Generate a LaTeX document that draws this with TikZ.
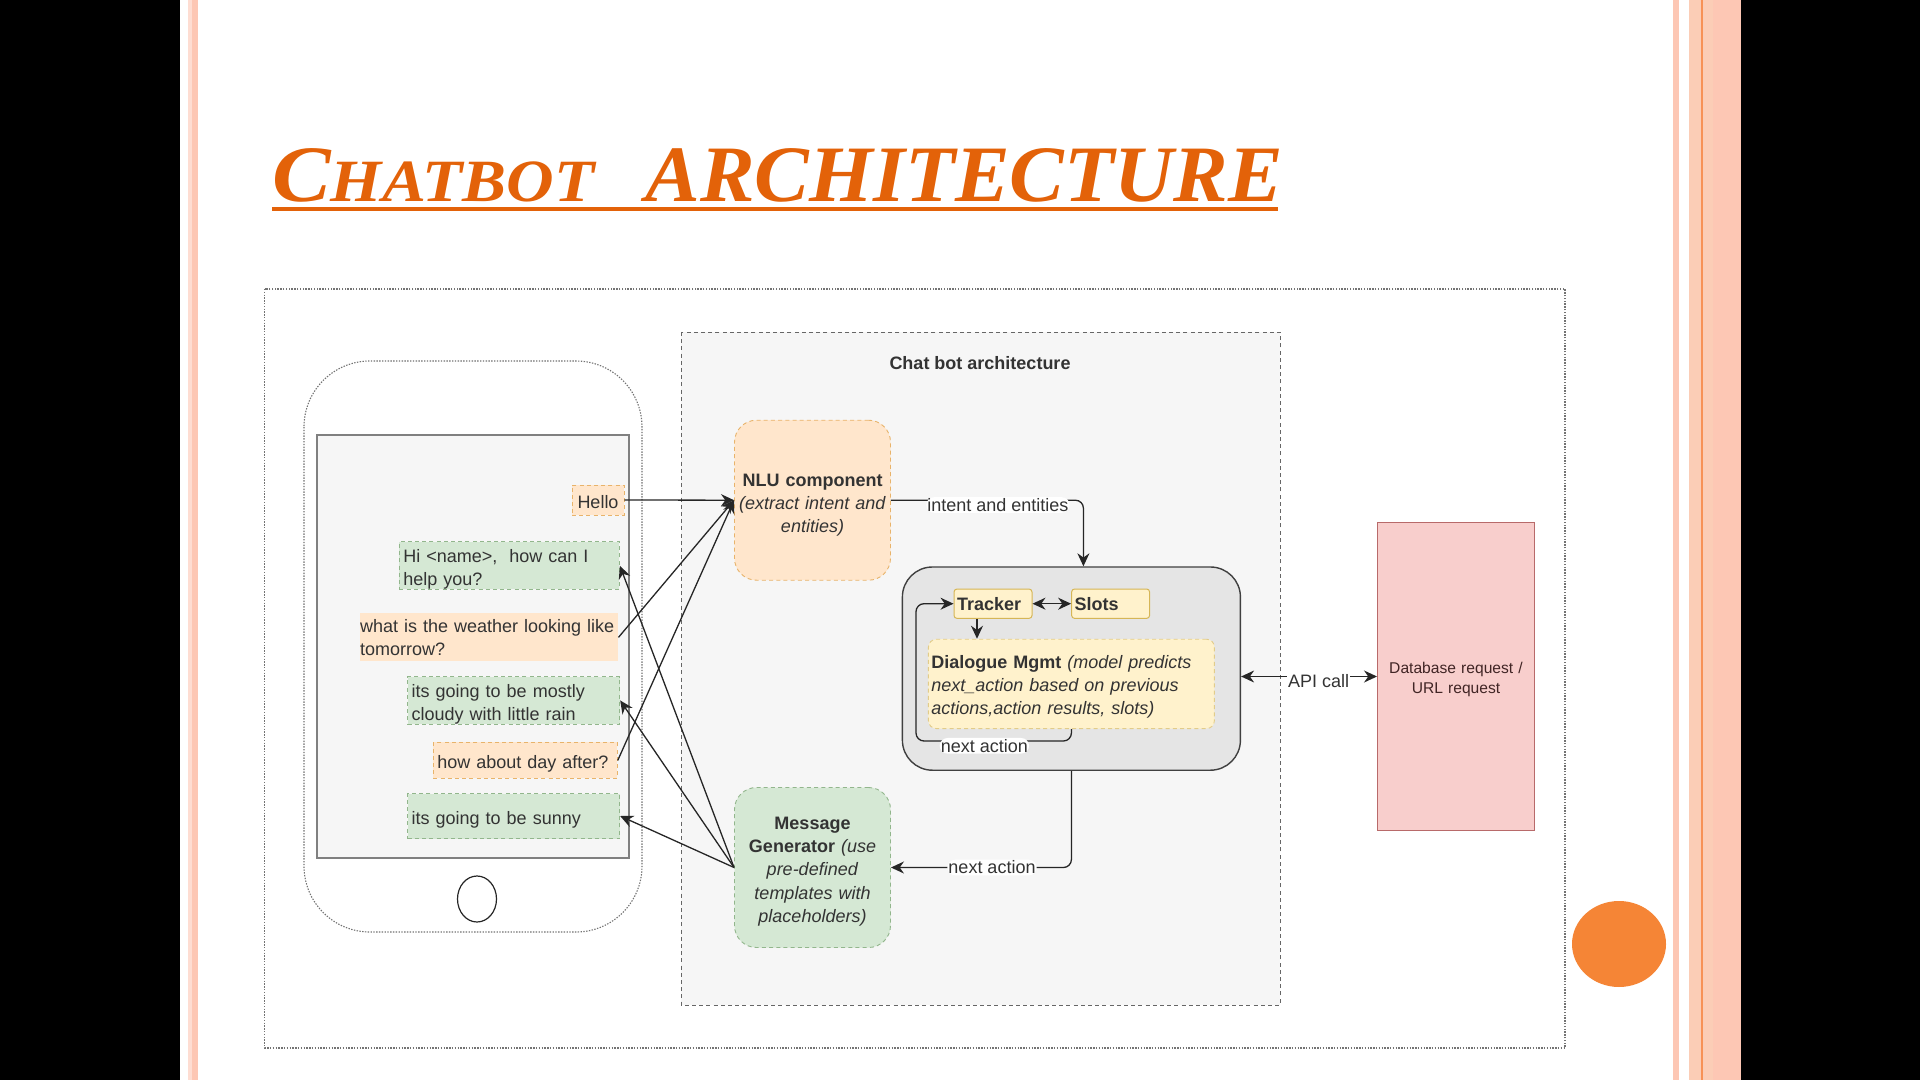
\documentclass[tikz,border=0pt]{standalone}
\usepackage{fontspec}
\setmainfont{Liberation Sans}
\setsansfont{Liberation Sans}
\newfontfamily\titlefamily{Liberation Serif}
\usetikzlibrary{arrows.meta,positioning,shapes.geometric,calc}
\definecolor{slideorange}{HTML}{E36209}
\definecolor{slidepink}{HTML}{FDC7B4}
\definecolor{slidepeach}{HTML}{FBCDB6}
\definecolor{slideline}{HTML}{F79256}
\definecolor{slidedot}{HTML}{F58536}
\definecolor{txtgray}{HTML}{333333}
\definecolor{edgegray}{HTML}{666666}
\definecolor{panelgray}{HTML}{F6F6F6}
\definecolor{usrorange}{HTML}{FFE6CC}
\definecolor{usredge}{HTML}{E8B36A}
\definecolor{botgreen}{HTML}{D5E8D4}
\definecolor{botedge}{HTML}{92B68C}
\definecolor{dmyellow}{HTML}{FFF2CC}
\definecolor{dmedge}{HTML}{D6B656}
\definecolor{dbred}{HTML}{F8CECC}
\definecolor{dbedge}{HTML}{B86A6A}

\tikzset{
  diagtext/.style={font=\fontsize{9}{11.6}\selectfont, text=txtgray},
  topgap/.style={execute at begin node={\rule{0pt}{#1}}},
  finedash/.style={dash pattern=on 2pt off 1.6pt, line width=0.45pt},
  finedot/.style={dash pattern=on 0.7pt off 0.7pt, line width=0.55pt, draw=black!55},
  msgbox/.style={diagtext, rectangle, inner ysep=0pt, inner xsep=2pt, align=left},
  usrmsg/.style={msgbox, fill=usrorange, draw=usredge, finedash},
  botmsg/.style={msgbox, fill=botgreen, draw=botedge, finedash},
  compbox/.style={diagtext, rectangle, rounded corners=11pt, align=center, finedash,
    text width=77pt, minimum height=80pt, inner xsep=0.5pt, inner ysep=0pt},
  statebox/.style={diagtext, topgap=7pt, rectangle, rounded corners=1.5pt, fill=dmyellow, draw=dmedge,
    line width=0.5pt, minimum height=14.7pt, inner ysep=0pt, inner xsep=1.5pt,
    text width=36pt, align=left, font=\fontsize{9}{11.6}\selectfont\bfseries},
  conn/.style={draw=black!85, line width=0.65pt, -{Stealth[length=6.5pt,width=6pt]}},
  twoway/.style={conn, {Stealth[length=6.5pt,width=6pt]}-{Stealth[length=6.5pt,width=6pt]}},
  edgelabel/.style={diagtext, fill=white, inner sep=0.6pt},
}

\begin{document}
\begin{tikzpicture}[x=0.5pt, y=-0.5pt]

  % ---- Slide background ----
  \useasboundingbox (0,0) rectangle (1920,1080);
  \fill[white] (0,0) rectangle (1920,1080);
  \fill[black] (0,0) rectangle (180,1080);
  \fill[black] (1741,0) rectangle (1920,1080);

  % ---- Side stripes ----
  \fill[slidepink!60] (188,0) rectangle (192,1080);
  \fill[slidepink] (192,0) rectangle (198,1080);
  \fill[slidepink] (1673,0) rectangle (1679,1080);
  \fill[slidepeach] (1689,0) rectangle (1713,1080);
  \fill[slidepink] (1713,0) rectangle (1741,1080);
  \fill[slideline] (1701,0) rectangle (1703,1080);
  \fill[slidedot] (1619,944) ellipse [x radius=47, y radius=43];

  % ---- Title ----
  \node[anchor=base west, inner sep=0pt, text=slideorange] (slidetitle) at (272,202)
    {\titlefamily\bfseries\itshape\scalebox{1.098}[1]{\fontsize{40}{40}\selectfont C\fontsize{30}{40}\selectfont HATBOT}\hspace{25.5pt}\scalebox{1.024}[1]{\fontsize{40}{40}\selectfont ARCHITECTURE}};
  \draw[slideorange, line width=2pt] (272,209) -- (1278,209);

  % ---- Frames ----
  \draw[finedot] (264.5,289) rectangle (1565,1048);
  \draw[edgegray, fill=panelgray, finedash] (681,332) rectangle (1280,1005);
  \node[diagtext, font=\fontsize{9}{11.6}\selectfont\bfseries] (paneltitle) at (980,363) {Chat bot architecture};

  % ---- Phone ----
  \draw[finedot, rounded corners=33pt] (304,361) rectangle (642,932);
  \draw[black!50, fill=panelgray, line width=0.8pt] (317,435) rectangle (629,858);
  \node[draw=black!85, ellipse, line width=0.6pt, minimum width=19.5pt, minimum height=23pt, inner sep=0pt] (homebtn) at (477,899) {};

  % ---- Chat messages ----
  \node[usrmsg, topgap=8.4pt, text width=22pt, minimum height=15pt, align=center] (hello) at (598,500) {Hello};
  \node[botmsg, topgap=10.3pt, text width=106pt, minimum height=23pt] (hi) at (509.4,565.7) {Hi <name>,\ \ how can I\\help you?};
  \node[usrmsg, topgap=6pt, draw=none, text width=129pt, inner xsep=0pt, minimum height=24pt] (weather) at (489,637.4) {what is the weather looking like\\tomorrow?};
  \node[botmsg, topgap=10.3pt, text width=102pt, minimum height=23pt] (cloudy) at (513.7,700.4) {its going to be mostly\\cloudy with little rain};
  \node[usrmsg, topgap=10.3pt, text width=88pt, minimum height=18pt] (dayafter) at (525.3,760.4) {how about day after?};
  \node[botmsg, topgap=10.8pt, text width=102pt, minimum height=22.5pt] (sunny) at (513.7,816) {its going to be sunny};

  % ---- Components ----
  \node[compbox, topgap=11.4pt, fill=usrorange, draw=usredge] (nlu) at (812.5,500.2)
    {\textbf{NLU component}\\\textit{(extract intent and}\\\textit{entities)}};
  \node[compbox, topgap=10.2pt, fill=botgreen, draw=botedge] (msggen) at (812.5,867.5)
    {\textbf{Message}\\\textbf{Generator} \textit{(use}\\\textit{pre-defined}\\\textit{templates with}\\\textit{placeholders)}};

  % ---- Dialogue group ----
  \node[rectangle, rounded corners=15pt, fill=black!10, draw=black!75, line width=0.7pt,
    minimum width=169pt, minimum height=101.6pt, inner sep=0pt] (dmgroup) at (1071.4,668.6) {};
  \node[statebox] (tracker) at (993,603.7) {Tracker};
  \node[statebox] (slots) at (1110.6,603.7) {Slots};
  \node[msgbox, topgap=9.7pt, rounded corners=4pt, fill=dmyellow, draw=dmedge!70, finedash,
    text width=140pt, inner xsep=1.5pt, minimum height=44.7pt] (dialogue) at (1071.4,683.9)
    {\textbf{Dialogue Mgmt} \textit{(model predicts}\\\textit{next\_action based on previous}\\\textit{actions,action results, slots)}};

  % ---- Database ----
  \node[rectangle, fill=dbred, draw=dbedge, line width=0.6pt, text width=76pt, minimum height=153.7pt,
    inner xsep=1.2pt, inner ysep=0pt, align=center, text=black!65!dbedge, font=\fontsize{7.8}{10}\selectfont, topgap=8.4pt] (database) at (1456,676.5)
    {Database request /\\URL request};

  % ---- Connectors ----
  \draw[conn] (hello.east) -- (nlu.west);
  \draw[conn] (weather.east) -- (nlu.west);
  \draw[conn] (dayafter.east) -- (nlu.west);
  \draw[conn] (msggen.west) -- (hi.east);
  \draw[conn] (msggen.west) -- (cloudy.east);
  \draw[conn] (msggen.west) -- (sunny.east);

  \draw[conn, rounded corners=4pt] (nlu.east) -| node[edgelabel, pos=0.278, yshift=-2.4pt] (lblintent) {intent and entities}
    ([xshift=6pt]dmgroup.north);
  \draw[conn, rounded corners=4pt] (dmgroup.south) |- node[edgelabel, pos=0.72] (lblnext) {next action} (msggen.east);
  \draw[twoway] (tracker.east) -- (slots.west);
  \draw[conn] ([xshift=-8pt]tracker.south) -- ([xshift=-8pt]tracker.south |- dialogue.north);
  \coordinate (loopcorner) at (916,741);
  \draw[conn, rounded corners=4pt] (dialogue.south) |- node[edgelabel, pos=0.78, yshift=-2.4pt] (lblloop) {next action} (loopcorner) |- (tracker.west);
  \draw[twoway] (dmgroup.east |- database.west) -- node[edgelabel, pos=0.57, yshift=-2.4pt] (lblapi) {API call} (database.west);

\end{tikzpicture}
\end{document}
